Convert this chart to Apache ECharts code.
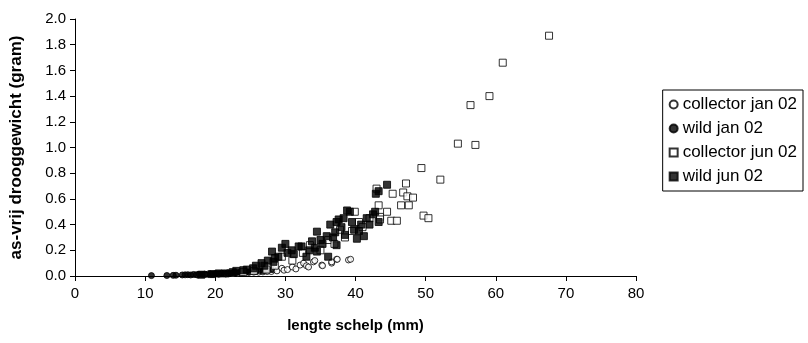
<!DOCTYPE html>
<html><head><meta charset="utf-8">
<script src="https://cdn.jsdelivr.net/npm/echarts@6/dist/echarts.min.js"></script>
<style>html,body{margin:0;padding:0;background:#fff}#c{width:808px;height:343px}</style>
</head><body><div id="c"></div>
<script>
const seriesNames = ['collector jan 02', 'wild jan 02', 'collector jun 02', 'wild jun 02'];
const xTicks = [0, 10, 20, 30, 40, 50, 60, 70, 80];
const yTicks = [0, 0.2, 0.4, 0.6, 0.8, 1.0, 1.2, 1.4, 1.6, 1.8, 2.0];

const collectorJan = [[17.5,0.008],[18.5,0.01],[19.5,0.012],[20.5,0.014],[21.5,0.016],[22.5,0.02],[23.2,0.022],[24.0,0.025],[24.8,0.028],[25.5,0.03],[26.2,0.03],[26.8,0.032],[27.4,0.035],[28.0,0.035],[28.3,0.05],[28.8,0.04],[29.5,0.06],[29.8,0.045],[30.3,0.05],[31.0,0.07],[31.5,0.055],[32.1,0.085],[32.6,0.10],[33.0,0.08],[33.3,0.07],[34.0,0.11],[34.2,0.12],[35.2,0.085],[35.3,0.08],[36.6,0.10],[36.6,0.11],[37.3,0.13],[37.4,0.13],[39.0,0.125],[39.3,0.13]];
const wildJan = [[10.9,0.003],[13.1,0.004],[14.0,0.005],[14.4,0.006],[15.3,0.008],[15.7,0.009],[16.1,0.01],[16.5,0.008],[16.9,0.012],[17.3,0.01],[17.7,0.013],[18.1,0.012],[18.5,0.015],[18.9,0.014],[19.3,0.017],[19.7,0.016],[20.1,0.02],[20.5,0.018],[20.9,0.022],[21.3,0.02],[21.8,0.025],[22.2,0.023],[22.6,0.028],[23.0,0.026],[23.5,0.03],[23.9,0.028],[24.4,0.034],[24.8,0.032],[25.3,0.038],[25.8,0.036],[26.3,0.042],[26.8,0.04],[27.3,0.046],[28.0,0.05]];
const collectorJun = [[24.0,0.03],[25.5,0.04],[27.3,0.05],[28.5,0.08],[29.5,0.15],[31.0,0.12],[32.5,0.18],[33.5,0.24],[35.0,0.20],[36.1,0.28],[37.0,0.25],[37.8,0.36],[38.5,0.30],[39.5,0.35],[39.9,0.50],[40.5,0.42],[41.0,0.38],[42.0,0.45],[43.0,0.68],[43.3,0.55],[43.5,0.46],[43.5,0.44],[44.5,0.50],[45.1,0.43],[45.3,0.64],[45.9,0.43],[46.5,0.55],[46.8,0.65],[47.2,0.72],[47.4,0.62],[47.6,0.55],[48.2,0.61],[49.4,0.84],[49.7,0.47],[50.4,0.45],[52.1,0.75],[54.6,1.03],[57.1,1.02],[56.4,1.33],[59.1,1.40],[61.0,1.66],[67.6,1.87]];
const wildJun = [[18.0,0.01],[19.5,0.015],[20.5,0.02],[21.5,0.02],[22.5,0.03],[23.0,0.04],[24.0,0.045],[24.5,0.05],[25.4,0.06],[25.8,0.08],[26.6,0.10],[27.0,0.08],[27.5,0.12],[28.1,0.19],[28.3,0.11],[28.5,0.14],[29.0,0.15],[29.5,0.22],[30.0,0.25],[30.3,0.18],[30.9,0.20],[31.2,0.17],[31.9,0.23],[32.3,0.23],[33.0,0.15],[33.4,0.20],[33.8,0.27],[34.2,0.22],[34.5,0.345],[34.5,0.19],[35.0,0.28],[35.3,0.25],[35.9,0.31],[36.1,0.15],[36.4,0.40],[36.8,0.30],[37.1,0.34],[37.3,0.42],[37.3,0.24],[37.6,0.44],[38.0,0.38],[38.3,0.45],[38.5,0.32],[38.8,0.51],[39.2,0.50],[39.5,0.42],[39.8,0.36],[40.2,0.29],[40.5,0.35],[40.8,0.40],[41.2,0.31],[41.6,0.45],[42.0,0.40],[42.5,0.48],[42.8,0.50],[42.9,0.64],[43.3,0.66],[43.3,0.42],[44.5,0.71]];

const FONT = 'Liberation Sans, Arial, sans-serif';
const hollow = {color:'#fff', borderColor:'#000', borderWidth:1};
const solid = {color:'#000', borderColor:'#000', borderWidth:1};
function mk(name, data, symbol, size, style){
  return {name, type:'scatter', data, symbol, symbolSize:size, itemStyle:style, emphasis:{disabled:true}, animation:false};
}
const chart = echarts.init(document.getElementById('c'), null, {renderer:'canvas'});
chart.setOption({
  backgroundColor:'#fff',
  animation:false,
  grid:{left:75, right:172, top:19, bottom:67},
  xAxis:{type:'value', min:xTicks[0], max:xTicks[xTicks.length-1], interval:10,
    axisLine:{show:true, lineStyle:{color:'#000', width:1}}, axisTick:{show:true, length:5, lineStyle:{color:'#000'}},
    splitLine:{show:false}, axisLabel:{color:'#000', fontFamily:FONT, fontSize:15, margin:10},
    name:'lengte schelp (mm)', nameLocation:'middle', nameGap:42,
    nameTextStyle:{color:'#000', fontFamily:FONT, fontSize:15, fontWeight:'bold'}},
  yAxis:{type:'value', min:yTicks[0], max:yTicks[yTicks.length-1], interval:0.2,
    axisLine:{show:true, lineStyle:{color:'#000', width:1}}, axisTick:{show:true, length:5, lineStyle:{color:'#000'}},
    splitLine:{show:false}, axisLabel:{color:'#000', fontFamily:FONT, fontSize:15, margin:9, formatter:v=>v.toFixed(1)},
    name:'as-vrij drooggewicht (gram)', nameLocation:'middle', nameGap:50, nameRotate:90,
    nameTextStyle:{color:'#000', fontFamily:FONT, fontSize:17, fontWeight:'bold'}},
  legend:{orient:'vertical', right:5, top:90, itemGap:7, itemWidth:8, itemHeight:8,
    borderColor:'#000', borderWidth:1, padding:[6,6,6,6], borderRadius:0,
    textStyle:{color:'#000', fontFamily:FONT, fontSize:17},
    data:seriesNames},
  series:[
    mk(seriesNames[0], collectorJan, 'circle', 6, hollow),
    mk(seriesNames[1], wildJan, 'circle', 6, solid),
    mk(seriesNames[2], collectorJun, 'rect', 7, hollow),
    mk(seriesNames[3], wildJun, 'rect', 7, solid)
  ]
});
</script></body></html>
